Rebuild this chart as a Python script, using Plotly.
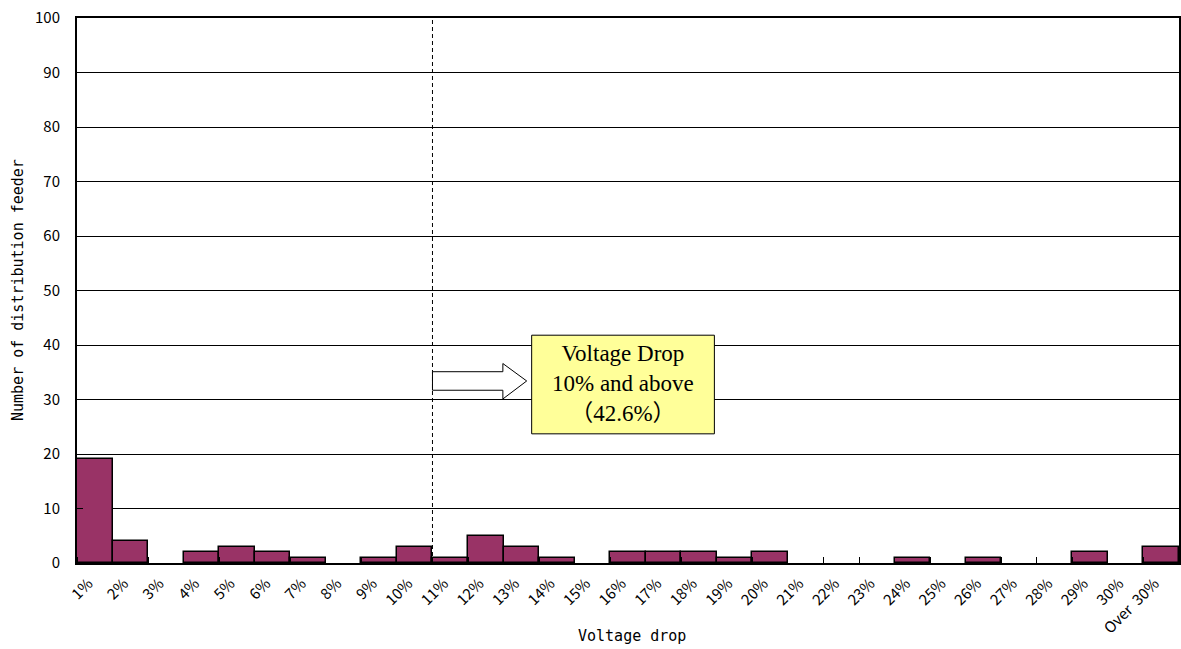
import plotly.graph_objects as go

# Histogram of distribution feeders by voltage drop
categories = [f"{i}%" for i in range(1, 31)] + ["Over\u00a0\u00a030%"]
counts = [19, 4, 0, 2, 3, 2, 1, 0, 1, 3,
          1, 5, 3, 1, 0, 2, 2, 2, 1, 2,
          0, 0, 0, 1, 0, 1, 0, 0, 2, 0,
          3]
y_ticks = list(range(0, 101, 10))
threshold_index = 10  # boundary between the "10%" and "11%" bins

n = len(categories)
centers = [i + 0.5 for i in range(n)]
# empty bins are left undrawn so the axis stays clean
bar_heights = [c if c > 0 else None for c in counts]

fig = go.Figure()
fig.add_trace(go.Bar(
    x=centers, y=bar_heights, width=1,
    marker=dict(color="#993366", line=dict(color="black", width=1.5)),
    hoverinfo="skip",
))

# dashed threshold line
fig.add_shape(type="line", xref="x", yref="paper",
              x0=threshold_index, x1=threshold_index, y0=0, y1=1,
              line=dict(color="black", width=1, dash="4px,3px"))

# block arrow pointing to the callout
ax0, ax1, atip = threshold_index, 11.98, 12.65
by0, by1, hy0, hy1 = 31.7, 35.1, 30.1, 36.6
ymid = (by0 + by1) / 2
arrow_path = (f"M {ax0},{by0} L {ax1},{by0} L {ax1},{hy0} L {atip},{ymid} "
              f"L {ax1},{hy1} L {ax1},{by1} L {ax0},{by1} Z")
fig.add_shape(type="path", path=arrow_path, xref="x", yref="y",
              fillcolor="white", line=dict(color="black", width=1))

# callout box
fig.add_shape(type="rect", xref="x", yref="y",
              x0=12.79, x1=17.93, y0=23.7, y1=41.8,
              fillcolor="#FFFF99", line=dict(color="black", width=1))
fig.add_annotation(x=(12.79 + 17.93) / 2, y=(23.7 + 41.8) / 2 + 0.1, xref="x", yref="y",
                   text="Voltage Drop<br>10% and above<br>（42.6%）",
                   showarrow=False, align="center",
                   font=dict(family="Liberation Serif, Noto Sans CJK JP", size=23, color="black"))

# axis titles
fig.add_annotation(x=18, y=290, xref="paper", yref="paper", text="Number of distribution feeder",
                   textangle=-90, showarrow=False, xanchor="center", yanchor="middle",
                   font=dict(family="DejaVu Sans Mono", size=15, color="black"))
fig.add_annotation(x=632, y=636, text="Voltage drop", showarrow=False,
                   xanchor="center", yanchor="middle",
                   font=dict(family="DejaVu Sans Mono", size=15, color="black"))

fig.update_layout(
    width=1181, height=649,
    margin=dict(l=77, r=2, t=18, b=86),
    plot_bgcolor="white", paper_bgcolor="white",
    showlegend=False,
    bargap=0,
    font=dict(family="Noto Sans CJK JP", color="black"),
)
fig.update_xaxes(
    range=[0, n],
    tickmode="array",
    tickvals=[i + 0.32 for i in range(n)],
    ticktext=categories,
    tickangle=-45,
    ticks="", ticklabelstandoff=4,
    tickfont=dict(family="Noto Sans CJK JP", size=15),
    minor=dict(tickmode="array", tickvals=list(range(n + 1)),
               ticks="inside", ticklen=6, tickcolor="black", tickwidth=1),
    showgrid=False, zeroline=False, automargin=False,
    showline=True, linecolor="black", linewidth=2, mirror=True,
)
fig.update_yaxes(
    range=[0, 100],
    tickmode="array", tickvals=y_ticks,
    ticks="inside", ticklen=6, tickcolor="black",
    ticklabelstandoff=12,
    tickfont=dict(family="Noto Sans CJK JP", size=15),
    showgrid=True, gridcolor="black", gridwidth=1,
    zeroline=False, automargin=False,
    showline=True, linecolor="black", linewidth=2, mirror=True,
)

# place the axis titles in pixel terms relative to the full figure
for ann in fig.layout.annotations[-2:]:
    ann.xref = "paper"
    ann.yref = "paper"
    ann.x = (ann.x - 77) / (1181 - 77 - 2)
    ann.y = (649 - 86 - ann.y) / (649 - 18 - 86)

fig.write_html("out.html")
